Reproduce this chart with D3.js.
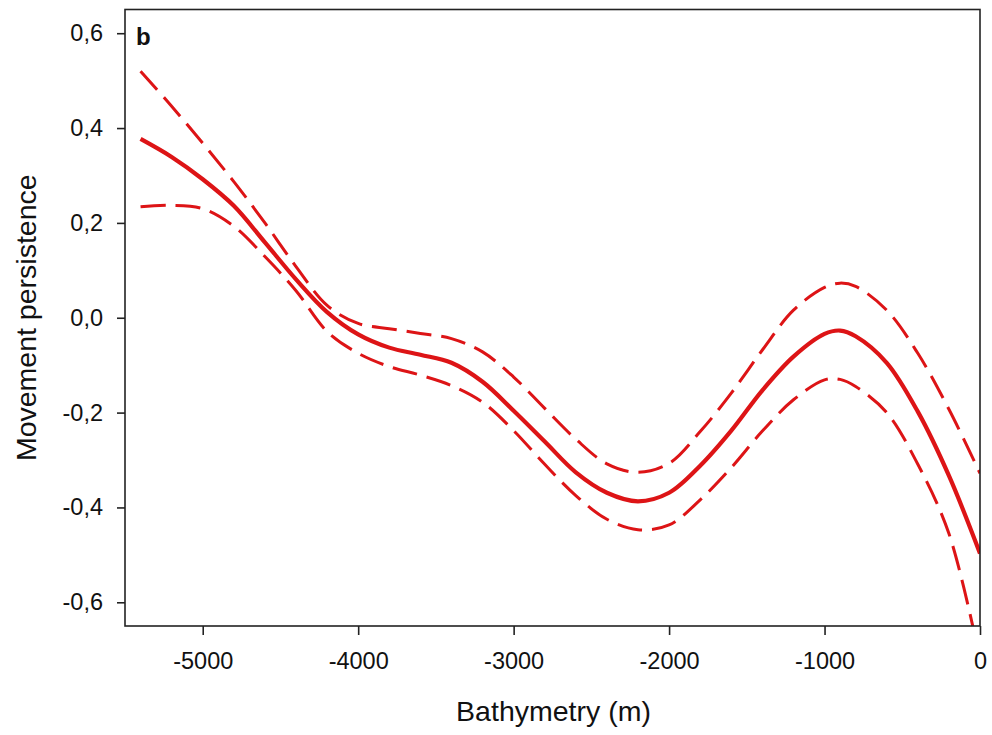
<!DOCTYPE html>
<html><head><meta charset="utf-8">
<script src="https://cdn.jsdelivr.net/npm/d3@7"></script>
<style>body{margin:0;background:#fff}svg{display:block}</style>
</head><body>
<svg id="chart" width="992" height="735"></svg>
<script>
const bathymetry = [-5400,-5200,-5000,-4800,-4600,-4400,-4200,-4000,-3800,-3600,-3400,-3200,-3000,-2800,-2600,-2400,-2200,-2000,-1800,-1600,-1400,-1200,-1000,-900,-800,-600,-400,-200,0];
const fitMean  = [0.377,0.339,0.292,0.236,0.159,0.081,0.012,-0.035,-0.063,-0.078,-0.095,-0.135,-0.196,-0.261,-0.326,-0.369,-0.387,-0.369,-0.312,-0.238,-0.153,-0.082,-0.034,-0.027,-0.039,-0.095,-0.198,-0.333,-0.497];
const fitUpper = [0.520,0.446,0.368,0.287,0.200,0.108,0.026,-0.012,-0.023,-0.033,-0.044,-0.072,-0.125,-0.191,-0.256,-0.308,-0.326,-0.307,-0.240,-0.159,-0.068,0.016,0.064,0.073,0.066,0.016,-0.075,-0.193,-0.328];
const fitLower = [0.234,0.237,0.230,0.193,0.129,0.057,-0.029,-0.075,-0.103,-0.121,-0.143,-0.178,-0.238,-0.309,-0.375,-0.425,-0.447,-0.437,-0.384,-0.316,-0.239,-0.173,-0.131,-0.130,-0.145,-0.200,-0.309,-0.455,-0.720];
const xTicks = [-5000,-4000,-3000,-2000,-1000,0];
const yTicks = [-0.6,-0.4,-0.2,0.0,0.2,0.4,0.6];
const xTitle = "Bathymetry (m)";
const yTitle = "Movement persistence";
const panelLabel = "b";

const svg = d3.select("#chart");
const L = 125, R = 980, T = 9.5, B = 626;
const x = d3.scaleLinear().domain([-5500, 0]).range([L, R]);
const y = d3.scaleLinear().domain([-0.65, 0.65]).range([B, T]);
const font = "Liberation Sans, Arial, Helvetica, sans-serif";
const red = "#dd1416";

svg.append("defs").append("clipPath").attr("id","clip")
  .append("rect").attr("x", L).attr("y", T).attr("width", R - L).attr("height", B - T);

const line = vals => d3.line()
  .x((d, i) => x(bathymetry[i]))
  .y(d => y(d))
  .curve(d3.curveCatmullRom.alpha(0.5))(vals);

const g = svg.append("g").attr("clip-path", "url(#clip)");
g.append("path").attr("d", line(fitUpper)).attr("fill","none").attr("stroke",red)
  .attr("stroke-width",3).attr("stroke-dasharray","25,10");
g.append("path").attr("d", line(fitLower)).attr("fill","none").attr("stroke",red)
  .attr("stroke-width",3).attr("stroke-dasharray","25,10");
g.append("path").attr("d", line(fitMean)).attr("fill","none").attr("stroke",red)
  .attr("stroke-width",4.2);

// frame
svg.append("rect").attr("x", L).attr("y", T).attr("width", R - L).attr("height", B - T)
  .attr("fill","none").attr("stroke","#222").attr("stroke-width",1.6);

const fmt = d => d3.format(".1f")(d).replace(".", ",").replace("−","-");
const xAxis = svg.append("g").attr("transform", `translate(0,${B})`)
  .call(d3.axisBottom(x).tickValues(xTicks).tickSize(9).tickPadding(17).tickFormat(d => String(d)));
const yAxis = svg.append("g").attr("transform", `translate(${L},0)`)
  .call(d3.axisLeft(y).tickValues(yTicks).tickSize(8).tickPadding(14).tickFormat(fmt));
[xAxis, yAxis].forEach(a => {
  a.select(".domain").remove();
  a.selectAll(".tick line").attr("stroke","#222").attr("stroke-width",1.6);
  a.selectAll(".tick text").attr("fill","#111").style("font-family", font).style("font-size","23.5px");
});

svg.append("text").attr("x", (L + R) / 2 + 1).attr("y", 721).attr("text-anchor","middle")
  .style("font-family", font).style("font-size","28.5px").attr("fill","#111").text(xTitle);
svg.append("text").attr("transform", `translate(36,${(T + B) / 2}) rotate(-90)`).attr("text-anchor","middle")
  .style("font-family", font).style("font-size","28.5px").attr("fill","#111").text(yTitle);
svg.append("text").attr("x", 136).attr("y", 45)
  .style("font-family", font).style("font-size","24px").style("font-weight","bold").attr("fill","#111").text(panelLabel);
</script>
</body></html>
